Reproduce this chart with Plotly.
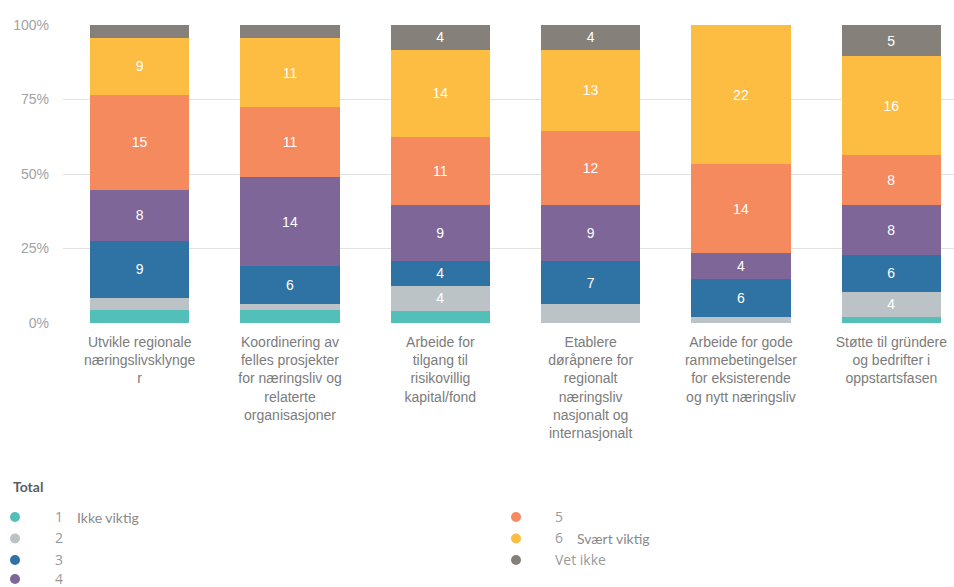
import plotly.graph_objects as go

# Survey items (x categories)
categories = [
    "Utvikle regionale<br>næringslivsklynge<br>r",
    "Koordinering av<br>felles prosjekter<br>for næringsliv og<br>relaterte<br>organisasjoner",
    "Arbeide for<br>tilgang til<br>risikovillig<br>kapital/fond",
    "Etablere<br>døråpnere for<br>regionalt<br>næringsliv<br>nasjonalt og<br>internasjonalt",
    "Arbeide for gode<br>rammebetingelser<br>for eksisterende<br>og nytt næringsliv",
    "Støtte til gründere<br>og bedrifter i<br>oppstartsfasen",
]

# Answer counts per response level
level_1 = [2, 2, 2, 0, 0, 1]
level_2 = [2, 1, 4, 3, 1, 4]
level_3 = [9, 6, 4, 7, 6, 6]
level_4 = [8, 14, 9, 9, 4, 8]
level_5 = [15, 11, 11, 12, 14, 8]
level_6 = [9, 11, 14, 13, 22, 16]
vet_ikke = [2, 2, 4, 4, 0, 5]

series_names = ["1", "2", "3", "4", "5", "6", "Vet ikke"]
series_notes = ["Ikke viktig", "", "", "", "", "Svært viktig", ""]
series_values = [level_1, level_2, level_3, level_4, level_5, level_6, vet_ikke]
series_colors = ["#52c0b8", "#bcc3c6", "#2f72a4", "#7e6699",
                 "#f48a5e", "#fdbc42", "#85817a"]

y_ticks = [0, 25, 50, 75, 100]
y_tick_text = ["0%", "25%", "50%", "75%", "100%"]

LABEL_MIN = 4  # smaller segments carry no value label

fig = go.Figure()
for name, vals, col in zip(series_names, series_values, series_colors):
    fig.add_trace(go.Bar(
        x=categories,
        y=vals,
        name=name,
        marker=dict(color=col, line=dict(width=0)),
        width=0.661,
        text=[str(v) if v >= LABEL_MIN else "" for v in vals],
        textposition="inside",
        insidetextanchor="middle",
        textangle=0,
        constraintext="none",
        textfont=dict(family="Liberation Sans, Arial", size=14, color="#ffffff"),
        showlegend=False,
    ))

W, H = 954, 587
ML, MR, MT, MB = 63, 0, 25, 264
PW, PH = W - ML - MR, H - MT - MB


def px(x):
    return (x - ML) / PW


def py(y):
    return (H - MB - y) / PH


annotations = []
shapes = []

# Legend header
annotations.append(dict(
    text="<b>Total</b>", x=px(11), y=py(486), xref="paper", yref="paper",
    xanchor="left", yanchor="middle", showarrow=False,
    font=dict(family="Lato", size=14, color="#5a5f66"),
))

# Two-column legend: first four levels left, remaining on the right
legend_rows = [516, 537.5, 559, 578]
for i, (name, note, col) in enumerate(zip(series_names, series_notes, series_colors)):
    if i < 4:
        dot_x, row_y = 15, legend_rows[i]
        num_x = 53
    else:
        dot_x, row_y = 516, legend_rows[i - 4]
        num_x = 553
    shapes.append(dict(
        type="circle", xref="paper", yref="paper",
        xsizemode="pixel", ysizemode="pixel",
        xanchor=px(dot_x), yanchor=py(row_y + 1),
        x0=-5, x1=5, y0=-5, y1=5,
        fillcolor=col, line=dict(width=0),
    ))
    annotations.append(dict(
        text=name, x=px(num_x), y=py(row_y), xref="paper", yref="paper",
        xanchor="left", yanchor="middle", showarrow=False,
        font=dict(family="Open Sans", size=14, color="#9a9a9a"),
    ))
    if note:
        annotations.append(dict(
            text=note, x=px(num_x + 22), y=py(row_y + 1), xref="paper", yref="paper",
            xanchor="left", yanchor="middle", showarrow=False,
            font=dict(family="Lato", size=14, color="#8a8a8a"),
        ))

fig.update_layout(
    width=W, height=H,
    margin=dict(l=ML, r=MR, t=MT, b=MB, pad=0),
    paper_bgcolor="#ffffff",
    plot_bgcolor="#ffffff",
    barmode="stack",
    barnorm="percent",
    annotations=annotations,
    shapes=shapes,
    xaxis=dict(
        range=[-0.51, 5.417],
        showgrid=False, zeroline=False, showline=False,
        ticks="",
        tickangle=0,
        ticklabelstandoff=9,
        tickfont=dict(family="Liberation Sans, Arial", size=14, color="#7c7c7c"),
        fixedrange=True,
    ),
    yaxis=dict(
        range=[0, 100],
        tickvals=y_ticks,
        ticktext=y_tick_text,
        showgrid=True, gridcolor="#e2e2e2", gridwidth=1,
        zeroline=False, showline=False,
        ticks="",
        ticklabelstandoff=13,
        tickfont=dict(family="Liberation Sans, Arial", size=14, color="#a2a2a2"),
        fixedrange=True,
    ),
)

fig.write_html("out.html", config={"displayModeBar": False})
